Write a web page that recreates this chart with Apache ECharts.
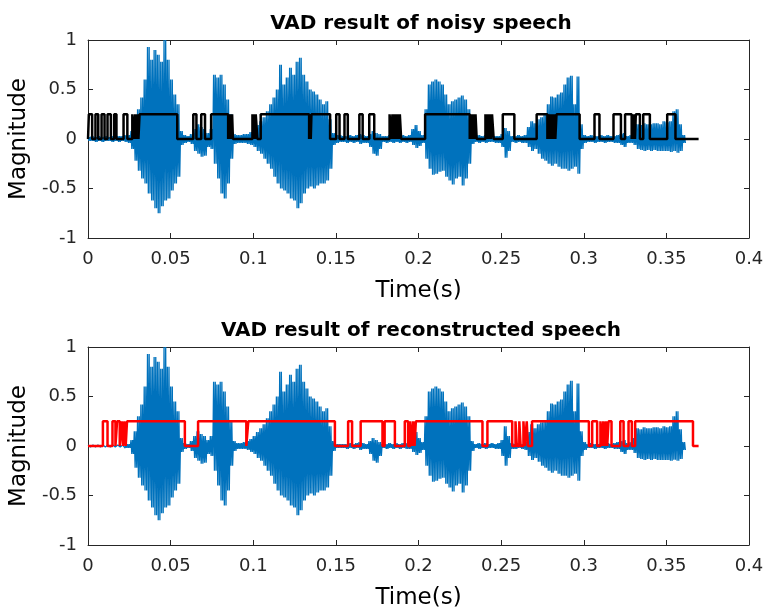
<!DOCTYPE html>
<html>
<head>
<meta charset="utf-8">
<script src="https://cdn.jsdelivr.net/npm/echarts@6/dist/echarts.min.js"></script>
<style>
html,body{margin:0;padding:0;background:#fff;}
#chart{width:767px;height:611px;}
</style>
</head>
<body>
<div id="chart"></div>
<script>
// ---- data ----
var titles = ['VAD result of noisy speech', 'VAD result of reconstructed speech'];
var xTicks = [0, 0.05, 0.1, 0.15, 0.2, 0.25, 0.3, 0.35, 0.4];
var yTicks = [-1, -0.5, 0, 0.5, 1];
var waveStep = 0.002; // sampling of the read envelope (s)

// envelope of the noisy waveform (upper / lower) every 2 ms from 0 to 0.36 s
var topUpper = [0.02,0.03,0.02,0.03,0.02,0.03,0.02,0.03,0.02,0.03,0.03,0.04,0.04,0.08,0.15,0.30,0.42,0.60,0.93,0.80,
0.90,0.85,0.78,1.00,0.80,0.60,0.45,0.35,0.08,0.04,0.03,0.05,0.10,0.15,0.12,0.10,0.06,0.10,0.65,0.62,
0.65,0.55,0.40,0.25,0.05,0.04,0.04,0.05,0.05,0.07,0.10,0.14,0.18,0.22,0.28,0.35,0.42,0.50,0.75,0.55,
0.62,0.72,0.65,0.78,0.82,0.65,0.58,0.50,0.48,0.45,0.40,0.35,0.38,0.20,0.06,0.04,0.04,0.03,0.03,0.04,
0.03,0.04,0.05,0.04,0.03,0.05,0.08,0.06,0.05,0.03,0.03,0.04,0.03,0.04,0.03,0.04,0.03,0.04,0.10,0.14,
0.08,0.04,0.30,0.55,0.58,0.60,0.58,0.55,0.45,0.35,0.38,0.40,0.42,0.44,0.40,0.30,0.05,0.03,0.04,0.03,
0.04,0.03,0.04,0.03,0.03,0.05,0.11,0.08,0.03,0.03,0.04,0.03,0.04,0.12,0.18,0.16,0.20,0.22,0.26,0.35,
0.43,0.42,0.45,0.47,0.55,0.62,0.64,0.35,0.63,0.15,0.04,0.03,0.04,0.03,0.03,0.04,0.03,0.04,0.03,0.03,
0.04,0.05,0.06,0.03,0.04,0.08,0.15,0.14,0.16,0.15,0.15,0.16,0.16,0.15,0.18,0.17,0.18,0.28,0.30,0.15,0.04];
var topLower = [-0.02,-0.02,-0.03,-0.02,-0.03,-0.02,-0.02,-0.03,-0.02,-0.03,-0.02,-0.03,-0.04,-0.10,-0.22,-0.32,-0.40,-0.45,-0.55,-0.62,
-0.70,-0.75,-0.68,-0.62,-0.60,-0.52,-0.45,-0.38,-0.06,-0.04,-0.03,-0.05,-0.12,-0.15,-0.18,-0.17,-0.08,-0.10,-0.25,-0.40,
-0.55,-0.60,-0.45,-0.20,-0.05,-0.04,-0.04,-0.04,-0.05,-0.06,-0.08,-0.12,-0.15,-0.20,-0.25,-0.30,-0.38,-0.45,-0.50,-0.52,
-0.55,-0.60,-0.62,-0.70,-0.65,-0.55,-0.50,-0.48,-0.50,-0.47,-0.45,-0.45,-0.42,-0.30,-0.06,-0.04,-0.03,-0.03,-0.04,-0.03,
-0.04,-0.03,-0.05,-0.04,-0.04,-0.08,-0.15,-0.17,-0.10,-0.03,-0.04,-0.03,-0.04,-0.03,-0.04,-0.03,-0.04,-0.03,-0.06,-0.09,
-0.07,-0.04,-0.20,-0.30,-0.36,-0.35,-0.33,-0.32,-0.38,-0.42,-0.46,-0.40,-0.38,-0.47,-0.40,-0.25,-0.05,-0.03,-0.04,-0.03,
-0.04,-0.03,-0.03,-0.04,-0.04,-0.08,-0.19,-0.12,-0.03,-0.04,-0.03,-0.04,-0.04,-0.08,-0.12,-0.10,-0.15,-0.20,-0.22,-0.25,
-0.27,-0.25,-0.28,-0.30,-0.30,-0.32,-0.30,-0.28,-0.35,-0.10,-0.04,-0.03,-0.03,-0.04,-0.03,-0.03,-0.04,-0.03,-0.03,-0.04,
-0.04,-0.06,-0.08,-0.04,-0.04,-0.06,-0.10,-0.11,-0.12,-0.11,-0.12,-0.11,-0.12,-0.12,-0.12,-0.12,-0.13,-0.12,-0.14,-0.12,-0.04];

// envelope of the reconstructed waveform
var botUpper = [0.01,0.01,0.01,0.01,0.01,0.01,0.01,0.01,0.01,0.01,0.01,0.02,0.02,0.06,0.15,0.30,0.42,0.60,0.93,0.80,
0.90,0.85,0.78,1.00,0.80,0.60,0.45,0.35,0.08,0.03,0.02,0.05,0.10,0.15,0.12,0.10,0.06,0.10,0.65,0.62,
0.65,0.55,0.40,0.25,0.05,0.03,0.03,0.04,0.05,0.07,0.10,0.14,0.18,0.22,0.28,0.35,0.42,0.50,0.75,0.55,
0.62,0.72,0.65,0.78,0.82,0.65,0.58,0.50,0.48,0.45,0.40,0.35,0.38,0.20,0.05,0.02,0.02,0.02,0.02,0.03,
0.02,0.03,0.04,0.03,0.02,0.05,0.08,0.06,0.04,0.02,0.02,0.03,0.02,0.03,0.02,0.03,0.03,0.04,0.10,0.14,
0.08,0.04,0.30,0.55,0.58,0.60,0.58,0.55,0.45,0.35,0.38,0.40,0.42,0.44,0.40,0.30,0.05,0.02,0.03,0.02,
0.03,0.02,0.03,0.02,0.03,0.06,0.20,0.10,0.03,0.02,0.03,0.02,0.04,0.14,0.22,0.18,0.22,0.24,0.26,0.35,
0.43,0.42,0.45,0.47,0.55,0.62,0.66,0.35,0.63,0.15,0.04,0.02,0.03,0.02,0.02,0.03,0.02,0.03,0.02,0.03,
0.04,0.05,0.06,0.03,0.04,0.08,0.18,0.17,0.19,0.18,0.18,0.19,0.19,0.18,0.20,0.19,0.20,0.30,0.35,0.17,0.04];
var botLower = [-0.01,-0.01,-0.01,-0.01,-0.01,-0.01,-0.01,-0.01,-0.01,-0.01,-0.01,-0.02,-0.02,-0.08,-0.22,-0.32,-0.40,-0.45,-0.55,-0.62,
-0.70,-0.75,-0.68,-0.62,-0.60,-0.52,-0.45,-0.38,-0.06,-0.03,-0.02,-0.05,-0.12,-0.15,-0.18,-0.17,-0.08,-0.10,-0.25,-0.40,
-0.55,-0.60,-0.45,-0.20,-0.05,-0.03,-0.03,-0.03,-0.04,-0.06,-0.08,-0.12,-0.15,-0.20,-0.25,-0.30,-0.38,-0.45,-0.50,-0.52,
-0.55,-0.60,-0.62,-0.70,-0.65,-0.55,-0.50,-0.48,-0.50,-0.47,-0.45,-0.45,-0.42,-0.30,-0.05,-0.02,-0.02,-0.02,-0.03,-0.02,
-0.03,-0.02,-0.04,-0.03,-0.03,-0.08,-0.15,-0.17,-0.10,-0.02,-0.03,-0.02,-0.03,-0.02,-0.03,-0.02,-0.03,-0.03,-0.06,-0.09,
-0.07,-0.04,-0.20,-0.30,-0.36,-0.35,-0.33,-0.32,-0.38,-0.42,-0.46,-0.40,-0.38,-0.47,-0.40,-0.25,-0.05,-0.02,-0.03,-0.02,
-0.03,-0.02,-0.02,-0.03,-0.03,-0.10,-0.20,-0.12,-0.03,-0.03,-0.02,-0.03,-0.04,-0.10,-0.14,-0.12,-0.16,-0.20,-0.22,-0.25,
-0.27,-0.25,-0.28,-0.30,-0.30,-0.32,-0.30,-0.28,-0.35,-0.10,-0.04,-0.02,-0.02,-0.03,-0.02,-0.02,-0.03,-0.02,-0.02,-0.03,
-0.03,-0.06,-0.08,-0.04,-0.04,-0.07,-0.12,-0.13,-0.14,-0.13,-0.14,-0.13,-0.14,-0.14,-0.14,-0.14,-0.15,-0.14,-0.15,-0.13,-0.04];

// VAD decisions: intervals [start, end] (s) where speech is detected
var vadLevel = 0.25;
var vadEnd = 0.3695;
var vadTopOn = [[0.0005,0.0025],[0.0045,0.0062],[0.0082,0.0100],[0.0118,0.0138],[0.0158,0.0172],[0.0215,0.0238],
[0.0268,0.0278],[0.0285,0.0292],[0.0298,0.0305],[0.0312,0.0540],
[0.0637,0.0656],[0.0685,0.0708],[0.0745,0.0848],[0.0853,0.0858],[0.0863,0.0868],[0.0872,0.0877],
[0.0995,0.1000],[0.1005,0.1010],[0.1015,0.1025],[0.1045,0.1338],[0.1342,0.1348],[0.1352,0.1465],
[0.1502,0.1522],[0.1552,0.1572],[0.1642,0.1662],[0.1702,0.1732],
[0.1825,0.1835],[0.1842,0.1850],[0.1857,0.1865],[0.1872,0.1880],[0.1887,0.1895],
[0.2040,0.2310],[0.2315,0.2320],[0.2325,0.2330],[0.2335,0.2340],[0.2345,0.2352],
[0.2405,0.2412],[0.2418,0.2425],[0.2432,0.2438],[0.2445,0.2455],[0.2510,0.2580],
[0.2715,0.2780],[0.2787,0.2792],[0.2798,0.2803],[0.2810,0.2815],[0.2822,0.2828],[0.2835,0.2975],
[0.3065,0.3095],[0.3180,0.3225],[0.3250,0.3290],[0.3295,0.3300],[0.3305,0.3310],[0.3315,0.3340],
[0.3360,0.3400],[0.3505,0.3555]];
var vadBotOn = [[0.0090,0.0118],[0.0148,0.0166],[0.0176,0.0192],[0.0204,0.0212],[0.0220,0.0228],[0.0236,0.0586],
[0.0666,0.0958],[0.0970,0.1494],[0.1574,0.1598],[0.1650,0.1782],[0.1795,0.1857],
[0.1917,0.1937],[0.1950,0.1960],[0.1968,0.1976],[0.1984,0.2387],[0.2417,0.2567],
[0.2587,0.2595],[0.2610,0.2618],[0.2635,0.2643],[0.2655,0.2662],[0.2687,0.3031],
[0.3051,0.3081],[0.3101,0.3110],[0.3118,0.3126],[0.3134,0.3142],[0.3150,0.3168],
[0.3221,0.3241],[0.3271,0.3291],[0.3311,0.3661]];

// ---- build series data ----
// each read envelope sample is drawn as two oscillations between its upper and lower value
function waveData(up, lo) {
  var d = [];
  for (var i = 0; i < up.length; i++) {
    var t = i * waveStep;
    d.push([t, up[i]]);
    d.push([t + waveStep * 0.25, lo[i]]);
    d.push([t + waveStep * 0.5, up[i]]);
    d.push([t + waveStep * 0.75, lo[i]]);
  }
  return d;
}
function vadData(on) {
  var d = [[0, 0]];
  on.forEach(function (s) {
    d.push([s[0], 0], [s[0], vadLevel], [s[1], vadLevel], [s[1], 0]);
  });
  d.push([vadEnd, 0]);
  return d;
}
function fmt(v) { return String(parseFloat(v.toFixed(3))); }

var axisColor = '#262626';
var font = 'DejaVu Sans';
var grids = [
  {left: 84, top: 40, width: 665, height: 198},
  {left: 84, top: 347, width: 665, height: 198}
];
var xAxes = [], yAxes = [];
grids.forEach(function (g, gi) {
  xAxes.push({
    gridIndex: gi, type: 'value', min: xTicks[0], max: xTicks[xTicks.length - 1], interval: 0.05,
    name: 'Time(s)', nameLocation: 'middle', nameGap: 42,
    nameTextStyle: {fontFamily: font, fontSize: 23, color: '#000'},
    axisLine: {show: true, onZero: false, lineStyle: {color: axisColor, width: 1}},
    axisTick: {show: true, inside: true, length: 5, lineStyle: {color: axisColor}},
    axisLabel: {fontFamily: font, fontSize: 18, color: axisColor, margin: 12, formatter: fmt},
    splitLine: {show: false}
  });
  xAxes.push({
    gridIndex: gi, type: 'value', position: 'top', min: 0, max: 0.4, interval: 0.05,
    axisLine: {show: true, onZero: false, lineStyle: {color: axisColor, width: 1}},
    axisTick: {show: true, inside: true, length: 5, lineStyle: {color: axisColor}},
    axisLabel: {show: false}, splitLine: {show: false}
  });
  yAxes.push({
    gridIndex: gi, type: 'value', min: yTicks[0], max: yTicks[yTicks.length - 1], interval: 0.5,
    name: 'Magnitude', nameLocation: 'middle', nameGap: 55, nameRotate: 90,
    nameTextStyle: {fontFamily: font, fontSize: 23, color: '#000'},
    axisLine: {show: true, onZero: false, lineStyle: {color: axisColor, width: 1}},
    axisTick: {show: true, inside: true, length: 5, lineStyle: {color: axisColor}},
    axisLabel: {fontFamily: font, fontSize: 18, color: axisColor, margin: 11, formatter: fmt},
    splitLine: {show: false}
  });
  yAxes.push({
    gridIndex: gi, type: 'value', position: 'right', min: -1, max: 1, interval: 0.5,
    axisLine: {show: true, onZero: false, lineStyle: {color: axisColor, width: 1}},
    axisTick: {show: true, inside: true, length: 5, lineStyle: {color: axisColor}},
    axisLabel: {show: false}, splitLine: {show: false}
  });
});

var option = {
  animation: false,
  backgroundColor: '#fff',
  title: [
    {text: titles[0], left: 416, top: 9, textAlign: 'center',
     textStyle: {fontFamily: font, fontSize: 20, fontWeight: 'bold', color: '#000'}},
    {text: titles[1], left: 416, top: 316, textAlign: 'center',
     textStyle: {fontFamily: font, fontSize: 20, fontWeight: 'bold', color: '#000'}}
  ],
  grid: grids,
  xAxis: xAxes,
  yAxis: yAxes,
  series: [
    {type: 'line', xAxisIndex: 0, yAxisIndex: 0, data: waveData(topUpper, topLower), showSymbol: false,
     lineStyle: {color: '#0072BD', width: 1.3}, z: 2, silent: true},
    {type: 'line', xAxisIndex: 0, yAxisIndex: 0, data: vadData(vadTopOn), showSymbol: false,
     lineStyle: {color: '#000', width: 2.5}, z: 3, silent: true},
    {type: 'line', xAxisIndex: 2, yAxisIndex: 2, data: waveData(botUpper, botLower), showSymbol: false,
     lineStyle: {color: '#0072BD', width: 1.3}, z: 2, silent: true},
    {type: 'line', xAxisIndex: 2, yAxisIndex: 2, data: vadData(vadBotOn), showSymbol: false,
     lineStyle: {color: '#FF0000', width: 2.5}, z: 3, silent: true}
  ]
};
var chart = echarts.init(document.getElementById('chart'), null, {renderer: 'canvas'});
chart.setOption(option);
</script>
</body>
</html>
